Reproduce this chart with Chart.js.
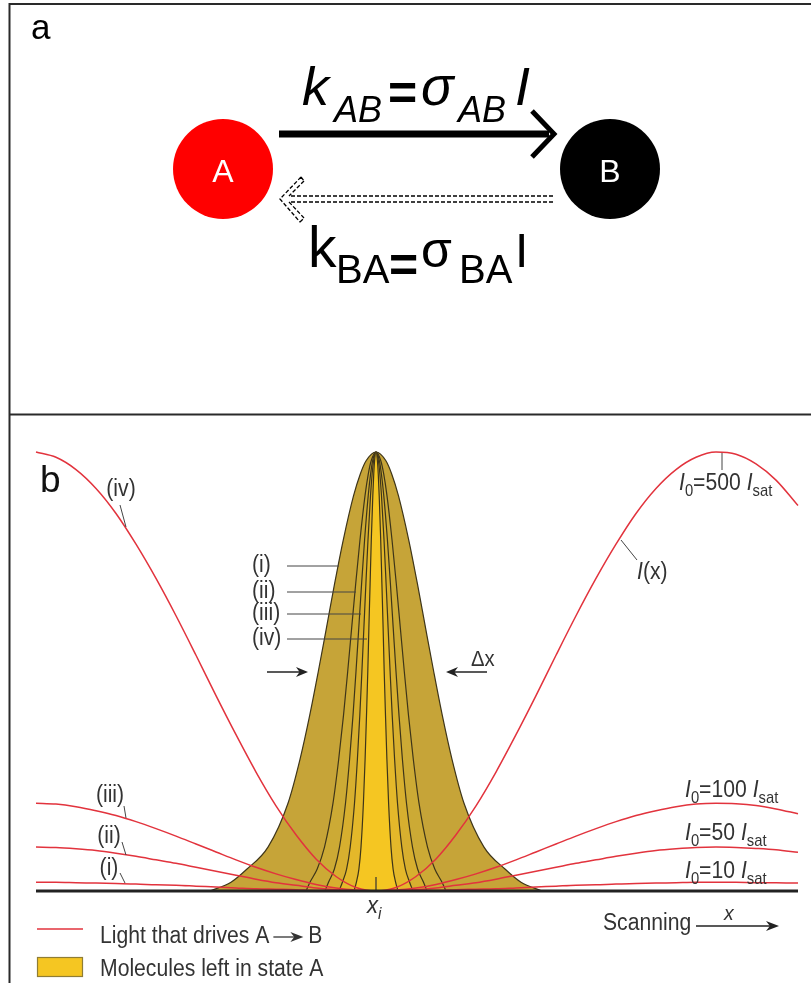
<!DOCTYPE html>
<html>
<head>
<meta charset="utf-8">
<script src="https://cdn.jsdelivr.net/npm/chart.js@4.4.1/dist/chart.umd.min.js"></script>
<style>
  html, body { margin: 0; padding: 0; background: #fff; }
  #wrap { position: relative; width: 811px; height: 983px; overflow: hidden; }
  #panelA { position: absolute; left: 0; top: 0; }
  #panelB { position: absolute; left: 0; top: 416px; }
</style>
</head>
<body>
<div id="wrap">
  <canvas id="panelA" width="811" height="416"></canvas>
  <canvas id="panelB" width="811" height="567"></canvas>
</div>
<script>
// panel a: the two states
var stateLabels = ["A", "B"];
var statePos = [0, 1];
var stateColors = ["#ff0000", "#000000"];

// panel b: scan position (xi = 0) and light profiles, relative to the 500 Isat peak
var scanX = [-340, -320, -300, -280, -260, -240, -220, -200, -180, -160, -140, -120, -100, -80, -60, -40, -20, 0,
  20, 40, 60, 80, 100, 120, 140, 160, 180, 200, 220, 240, 260, 280, 300, 320, 340, 360, 380, 400, 422];
var lightIV = [1.0, 0.988, 0.96, 0.917, 0.86, 0.79, 0.712, 0.627, 0.537, 0.445, 0.356, 0.271, 0.194, 0.128, 0.073, 0.033, 0.008, 0,
  0.008, 0.033, 0.073, 0.128, 0.194, 0.271, 0.356, 0.445, 0.537, 0.627, 0.712, 0.79, 0.86, 0.917, 0.96, 0.988, 1.0, 0.995, 0.973, 0.936, 0.878];
var lightIII = [0.2, 0.198, 0.192, 0.183, 0.172, 0.158, 0.142, 0.125, 0.107, 0.089, 0.071, 0.054, 0.039, 0.026, 0.015, 0.007, 0.002, 0,
  0.002, 0.007, 0.015, 0.026, 0.039, 0.054, 0.071, 0.089, 0.107, 0.125, 0.142, 0.158, 0.172, 0.183, 0.192, 0.198, 0.2, 0.199, 0.195, 0.187, 0.176];
var lightII = [0.1, 0.099, 0.096, 0.092, 0.086, 0.079, 0.071, 0.063, 0.054, 0.045, 0.036, 0.027, 0.019, 0.013, 0.007, 0.003, 0.001, 0,
  0.001, 0.003, 0.007, 0.013, 0.019, 0.027, 0.036, 0.045, 0.054, 0.063, 0.071, 0.079, 0.086, 0.092, 0.096, 0.099, 0.1, 0.099, 0.097, 0.094, 0.088];
var lightI = [0.02, 0.02, 0.019, 0.018, 0.017, 0.016, 0.014, 0.013, 0.011, 0.009, 0.007, 0.005, 0.004, 0.003, 0.001, 0.001, 0, 0,
  0, 0.001, 0.001, 0.003, 0.004, 0.005, 0.007, 0.009, 0.011, 0.013, 0.014, 0.016, 0.017, 0.018, 0.019, 0.02, 0.02, 0.02, 0.019, 0.019, 0.018];

// molecules left in state A: half width of each profile at these heights
var stateAHeights = [0, 0.02, 0.05, 0.1, 0.2, 0.3, 0.4, 0.5, 0.6, 0.7, 0.8, 0.9, 0.95, 0.98, 1];
var widthOuter = [166, 145, 129, 108, 88, 76, 66.3, 57.7, 49.5, 41.4, 32.7, 22.5, 15.7, 9.9, 0];
var widthC1 = [70, 66, 58.8, 51.5, 43, 37.3, 32.5, 28.3, 24.3, 20.3, 16, 11, 7.7, 4.8, 0];
var widthC2 = [51, 47.5, 41.6, 36.5, 30.5, 26.4, 23, 20, 17.2, 14.4, 11.4, 7.8, 5.4, 3.4, 0];
var widthC3 = [37, 33.6, 29.4, 25.8, 21.5, 18.6, 16.2, 14.1, 12.1, 10.1, 8, 5.5, 3.85, 2.4, 0];
var widthC4 = [22, 19.6, 17.1, 15, 12.6, 10.9, 9.5, 8.2, 7.1, 5.9, 4.7, 3.2, 2.25, 1.4, 0];

var baseX = [-340, 422];
var baseY = [0, 0];
var xiTickX = [0, 0];
var xiTickY = [0, 0.032];

var RED = "#e2333d";
var INK = "#333333";
var FONT = '"Liberation Sans", Arial, Helvetica, sans-serif';

function curvePoints(xs, ys) {
  return xs.map(function (x, i) { return { x: x, y: ys[i] }; });
}

function profilePoints(widths) {
  var pts = [];
  for (var i = 0; i < stateAHeights.length; i++) pts.push({ x: -widths[i], y: stateAHeights[i] });
  for (var j = stateAHeights.length - 2; j >= 0; j--) pts.push({ x: widths[j], y: stateAHeights[j] });
  return pts;
}

// text made of pieces: [text, flags] with flags i = italic, s = subscript, b = bold
function drawRich(ctx, segs, x, y, size, opt) {
  opt = opt || {};
  var sx = opt.sx || 1;
  var parts = segs.map(function (s) {
    var f = s[1] || "";
    var fs = f.indexOf("s") >= 0 ? size * 0.7 : size;
    var font = (f.indexOf("i") >= 0 ? "italic " : "") + (f.indexOf("b") >= 0 ? "bold " : "") + fs + "px " + FONT;
    ctx.font = font;
    return { t: s[0], font: font, dy: f.indexOf("s") >= 0 ? size * 0.27 : 0, w: ctx.measureText(s[0]).width };
  });
  var total = parts.reduce(function (a, p) { return a + p.w; }, 0);
  var cx = opt.align === "center" ? -total / 2 : 0;
  ctx.save();
  ctx.translate(x, y);
  ctx.scale(sx, 1);
  ctx.fillStyle = opt.color || INK;
  ctx.textAlign = "left";
  ctx.textBaseline = opt.middle ? "middle" : "alphabetic";
  parts.forEach(function (p) {
    ctx.font = p.font;
    ctx.fillText(p.t, cx, p.dy);
    cx += p.w;
  });
  ctx.restore();
  return total * sx;
}

function seg(ctx, x1, y1, x2, y2, color, w) {
  ctx.beginPath();
  ctx.moveTo(x1, y1);
  ctx.lineTo(x2, y2);
  ctx.strokeStyle = color;
  ctx.lineWidth = w;
  ctx.stroke();
}

function arrow(ctx, x1, y1, x2, y2, color, len, half) {
  var a = Math.atan2(y2 - y1, x2 - x1);
  var c = Math.cos(a), s = Math.sin(a);
  seg(ctx, x1, y1, x2 - c * len * 0.6, y2 - s * len * 0.6, color, 1.3);
  ctx.beginPath();
  ctx.moveTo(x2, y2);
  ctx.lineTo(x2 - c * len - s * half, y2 - s * len + c * half);
  ctx.lineTo(x2 - c * len * 0.7, y2 - s * len * 0.7);
  ctx.lineTo(x2 - c * len + s * half, y2 - s * len - c * half);
  ctx.closePath();
  ctx.fillStyle = color;
  ctx.fill();
}

// ---------- panel a ----------
var panelAPlugin = {
  id: "panelA",
  afterDatasetsDraw: function (chart) {
    var ctx = chart.ctx;
    var pts = chart.getDatasetMeta(0).data;
    var aX = pts[0].x, bX = pts[1].x, cy = pts[0].y, r = 50;

    // frame
    ctx.save();
    ctx.strokeStyle = "#2a2a2a";
    ctx.lineWidth = 2;
    ctx.beginPath();
    ctx.moveTo(811, 4); ctx.lineTo(9.5, 4); ctx.lineTo(9.5, 416);
    ctx.moveTo(9, 414.5); ctx.lineTo(811, 414.5);
    ctx.stroke();

    ctx.fillStyle = "#000";
    ctx.font = "35px " + FONT;
    ctx.textAlign = "left";
    ctx.fillText("a", 31, 39);

    // state letters
    ctx.fillStyle = "#fff";
    ctx.font = "32px " + FONT;
    ctx.textAlign = "center";
    ctx.fillText(stateLabels[0], aX, cy + 13);
    ctx.fillText(stateLabels[1], bX, cy + 13);

    // solid arrow A -> B
    var ys = cy - 35, x0 = aX + r + 6, tip = bX - r - 5;
    ctx.fillStyle = "#000";
    ctx.fillRect(x0, ys - 3.5, tip - 6 - x0, 7);
    ctx.beginPath();
    ctx.moveTo(tip - 23, ys - 23);
    ctx.lineTo(tip - 1, ys);
    ctx.lineTo(tip - 23, ys + 23);
    ctx.strokeStyle = "#000";
    ctx.lineWidth = 5;
    ctx.lineJoin = "miter";
    ctx.lineCap = "butt";
    ctx.stroke();

    // dashed arrow B -> A
    var yd = cy + 30, xs = bX - r - 7, xt = aX + r + 7;
    ctx.lineWidth = 1.3;
    ctx.setLineDash([4, 2]);
    ctx.beginPath();
    ctx.moveTo(xs, yd - 3); ctx.lineTo(xt + 11, yd - 3);
    ctx.moveTo(xs, yd + 3); ctx.lineTo(xt + 11, yd + 3);
    ctx.moveTo(xt + 21, yd - 22); ctx.lineTo(xt, yd); ctx.lineTo(xt + 20, yd + 23);
    ctx.moveTo(xt + 24, yd - 18); ctx.lineTo(xt + 9, yd - 3);
    ctx.moveTo(xt + 9, yd + 3); ctx.lineTo(xt + 24, yd + 19);
    ctx.moveTo(xt + 21, yd - 22); ctx.lineTo(xt + 24, yd - 18);
    ctx.moveTo(xt + 20, yd + 23); ctx.lineTo(xt + 24, yd + 19);
    ctx.stroke();
    ctx.setLineDash([]);

    // rate formulas
    ctx.fillStyle = "#000";
    ctx.textAlign = "left";
    ctx.font = "italic 54px " + FONT; ctx.fillText("k", 302, 105);
    ctx.font = "italic 36px " + FONT; ctx.fillText("AB", 334, 122);
    ctx.font = "bold 50px " + FONT; ctx.fillText("=", 388, 110);
    ctx.font = "italic 54px " + FONT; ctx.fillText("\u03c3", 421, 105);
    ctx.font = "italic 36px " + FONT; ctx.fillText("AB", 458, 122);
    ctx.font = "italic 54px " + FONT; ctx.fillText("I", 515, 105);

    ctx.font = "57px " + FONT; ctx.fillText("k", 308, 267);
    ctx.font = "40px " + FONT; ctx.fillText("BA", 336, 283);
    ctx.font = "bold 50px " + FONT; ctx.fillText("=", 389, 282);
    ctx.font = "50px " + FONT; ctx.fillText("\u03c3", 421, 267);
    ctx.font = "40px " + FONT; ctx.fillText("BA", 459, 283);
    ctx.font = "48px " + FONT; ctx.fillText("I", 515, 267);
    ctx.restore();
  }
};

new Chart(document.getElementById("panelA"), {
  type: "scatter",
  data: {
    labels: stateLabels,
    datasets: [{
      data: statePos.map(function (x) { return { x: x, y: 0 }; }),
      pointRadius: 50,
      pointHoverRadius: 50,
      pointBackgroundColor: stateColors,
      pointBorderWidth: 0,
      borderWidth: 0,
      clip: false
    }]
  },
  options: {
    responsive: false,
    animation: false,
    events: [],
    layout: { padding: { left: 223, right: 201, top: 69, bottom: 147 } },
    plugins: { legend: { display: false }, tooltip: { enabled: false } },
    scales: {
      x: { type: "linear", min: 0, max: 1, display: false },
      y: { min: -1, max: 1, display: false }
    }
  },
  plugins: [panelAPlugin]
});

// ---------- panel b ----------
var TOP = 416;
function Y(py) { return py - TOP; }

var panelBPlugin = {
  id: "panelB",
  afterDraw: function (chart) {
    var ctx = chart.ctx;
    var o = { sx: 0.92 };
    ctx.save();
    seg(ctx, 9.5, 0, 9.5, 567, "#2a2a2a", 2);

    ctx.fillStyle = "#111";
    ctx.font = "37px " + FONT;
    ctx.fillText("b", 40, Y(492));

    // left curve labels
    var mid = { sx: 0.92, middle: true, align: "center" };
    drawRich(ctx, [["(iv)"]], 121, Y(490), 23, mid);
    seg(ctx, 120, Y(505), 126, Y(527), "#444", 1);
    drawRich(ctx, [["(iii)"]], 110, Y(796), 23, mid);
    seg(ctx, 124, Y(806), 126, Y(818), "#444", 1);
    drawRich(ctx, [["(ii)"]], 109, Y(837), 23, mid);
    seg(ctx, 122, Y(842), 126, Y(855), "#444", 1);
    drawRich(ctx, [["(i)"]], 109, Y(869), 23, mid);
    seg(ctx, 120, Y(873), 125, Y(883), "#444", 1);

    // labels for the state A profiles
    var names = ["(i)", "(ii)", "(iii)", "(iv)"];
    var ly = [566, 592, 614, 639];
    var lx = [339, 356, 361, 367];
    for (var i = 0; i < 4; i++) {
      drawRich(ctx, [[names[i]]], 252, Y(ly[i]), 23, { sx: 0.92, middle: true });
      seg(ctx, 287, Y(ly[i]), lx[i], Y(ly[i]), "#444", 1);
    }

    // width arrows
    arrow(ctx, 267, Y(672), 308, Y(672), "#222", 12, 5);
    arrow(ctx, 487, Y(672), 446, Y(672), "#222", 12, 5);
    drawRich(ctx, [["\u0394x"]], 471, Y(666), 22, o);

    // intensity labels
    drawRich(ctx, [["I", "i"], ["0", "s"], ["=500 "], ["I", "i"], ["sat", "s"]], 679, Y(490), 23, o);
    seg(ctx, 722, Y(453), 722, Y(470), "#444", 1);
    drawRich(ctx, [["I", "i"], ["(x)"]], 637, Y(579), 23, o);
    seg(ctx, 621, Y(540), 637, Y(560), "#444", 1);
    drawRich(ctx, [["I", "i"], ["0", "s"], ["=100 "], ["I", "i"], ["sat", "s"]], 685, Y(797), 23, o);
    drawRich(ctx, [["I", "i"], ["0", "s"], ["=50 "], ["I", "i"], ["sat", "s"]], 685, Y(840), 23, o);
    drawRich(ctx, [["I", "i"], ["0", "s"], ["=10 "], ["I", "i"], ["sat", "s"]], 685, Y(878), 23, o);

    // scan position
    var xi = chart.scales.x.getPixelForValue(0);
    drawRich(ctx, [["x", "i"], ["i", "is"]], xi - 9, Y(913), 24, o);
    drawRich(ctx, [["Scanning"]], 603, Y(930), 23, o);
    arrow(ctx, 696, Y(926), 779, Y(926), "#222", 13, 5);
    drawRich(ctx, [["x", "i"]], 724, Y(920), 21, o);

    // legend
    seg(ctx, 37, Y(929), 83, Y(929), RED, 1.5);
    var w = drawRich(ctx, [["Light that drives A"]], 100, Y(943), 23, o);
    arrow(ctx, 100 + w + 4, Y(937), 100 + w + 34, Y(937), "#333", 13, 5);
    drawRich(ctx, [["B"]], 100 + w + 39, Y(943), 23, o);
    ctx.fillStyle = "#f5c622";
    ctx.fillRect(37, Y(957), 46, 20);
    ctx.strokeStyle = "#8f7d35";
    ctx.lineWidth = 1.2;
    ctx.strokeRect(37.5, Y(957) + 0.5, 45, 19);
    drawRich(ctx, [["Molecules left in state A"]], 100, Y(976), 23, o);
    ctx.restore();
  }
};

function redLine(label, ys) {
  return {
    label: label, data: curvePoints(scanX, ys), borderColor: RED, borderWidth: 1.5,
    pointRadius: 0, fill: false, cubicInterpolationMode: "monotone", clip: false, order: 1
  };
}

function goldShape(label, widths, color, order) {
  return {
    label: label, data: profilePoints(widths), borderColor: "#3e3519", borderWidth: 1.2,
    backgroundColor: color, fill: "origin", pointRadius: 0, cubicInterpolationMode: "monotone",
    clip: false, order: order
  };
}

new Chart(document.getElementById("panelB"), {
  type: "line",
  data: {
    datasets: [
      redLine("I0=500 Isat", lightIV),
      redLine("I0=100 Isat", lightIII),
      redLine("I0=50 Isat", lightII),
      redLine("I0=10 Isat", lightI),
      { label: "baseline", data: curvePoints(baseX, baseY), borderColor: "#222", borderWidth: 3, pointRadius: 0, clip: false, order: 0 },
      { label: "xi", data: curvePoints(xiTickX, xiTickY), borderColor: "#333", borderWidth: 1.2, pointRadius: 0, clip: false, order: 0 },
      goldShape("state A (iv)", widthC4, "#f5c622", 2),
      goldShape("state A (iii)", widthC3, "#e4b82a", 3),
      goldShape("state A (ii)", widthC2, "#d7af2f", 4),
      goldShape("state A (i)", widthC1, "#ccaa35", 5),
      goldShape("state A", widthOuter, "#c6a438", 6)
    ]
  },
  options: {
    responsive: false,
    animation: false,
    events: [],
    layout: { padding: { left: 36, right: 13, top: 36, bottom: 92 } },
    plugins: { legend: { display: false }, tooltip: { enabled: false } },
    scales: {
      x: { type: "linear", min: -340, max: 422, display: false },
      y: { min: 0, max: 1, display: false }
    }
  },
  plugins: [panelBPlugin]
});
</script>
</body>
</html>
